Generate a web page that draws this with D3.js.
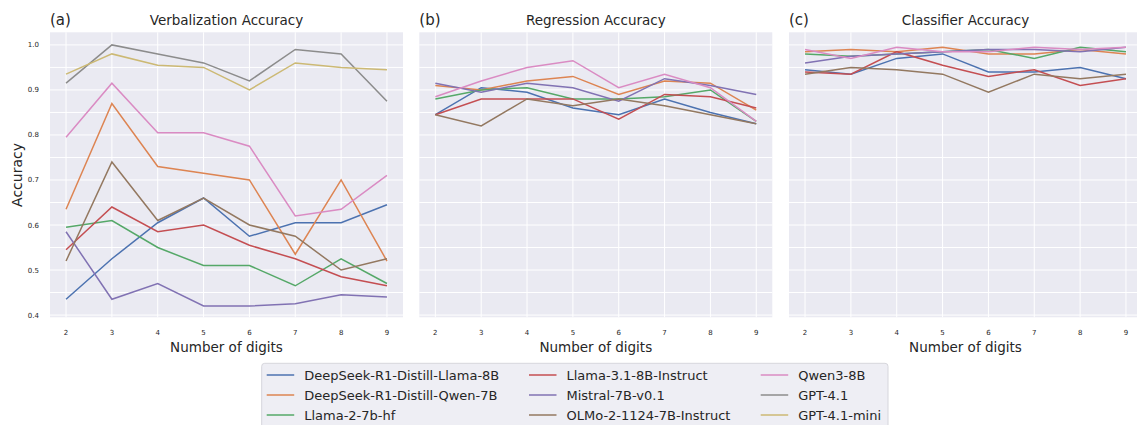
<!DOCTYPE html>
<html>
<head>
<meta charset="utf-8">
<script src="https://cdn.jsdelivr.net/npm/d3@7"></script>
<style>
  body { margin: 0; background: #fff; }
  svg { font-family: "DejaVu Sans", sans-serif; display: block; }
</style>
</head>
<body>
<div id="chart"></div>
<script>
// x axis: number of digits
const digits = [2, 3, 4, 5, 6, 7, 8, 9]
const yTicks = [0.4, 0.5, 0.6, 0.7, 0.8, 0.9, 1.0]

const models = [
  'DeepSeek-R1-Distill-Llama-8B', 'DeepSeek-R1-Distill-Qwen-7B', 'Llama-2-7b-hf',
  'Llama-3.1-8B-Instruct', 'Mistral-7B-v0.1', 'OLMo-2-1124-7B-Instruct',
  'Qwen3-8B', 'GPT-4.1', 'GPT-4.1-mini'
]
const colors = ['#4C72B0', '#DD8452', '#55A868', '#C44E52', '#8172B3', '#937860', '#DA8BC3', '#8C8C8C', '#CCB974']

// (a) verbalization, one row per model
const verbalization = [
  [0.435, 0.525, 0.605, 0.66, 0.575, 0.605, 0.605, 0.645],
  [0.635, 0.87, 0.73, 0.715, 0.70, 0.535, 0.70, 0.52],
  [0.595, 0.61, 0.55, 0.51, 0.51, 0.465, 0.525, 0.47],
  [0.545, 0.64, 0.585, 0.60, 0.555, 0.525, 0.485, 0.465],
  [0.585, 0.435, 0.47, 0.42, 0.42, 0.425, 0.445, 0.44],
  [0.52, 0.74, 0.61, 0.66, 0.60, 0.575, 0.50, 0.525],
  [0.795, 0.915, 0.805, 0.805, 0.775, 0.62, 0.635, 0.71],
  [0.915, 1.0, 0.98, 0.96, 0.92, 0.99, 0.98, 0.875],
  [0.935, 0.98, 0.955, 0.95, 0.90, 0.96, 0.95, 0.945]
]
// (b) regression (no GPT rows)
const regression = [
  [0.845, 0.905, 0.895, 0.86, 0.845, 0.88, 0.85, 0.825],
  [0.91, 0.90, 0.92, 0.93, 0.89, 0.92, 0.915, 0.855],
  [0.88, 0.90, 0.905, 0.88, 0.88, 0.885, 0.90, 0.83],
  [0.845, 0.88, 0.88, 0.88, 0.835, 0.89, 0.885, 0.86],
  [0.915, 0.895, 0.915, 0.905, 0.875, 0.925, 0.91, 0.89],
  [0.845, 0.82, 0.88, 0.865, 0.88, 0.865, 0.845, 0.825],
  [0.885, 0.92, 0.95, 0.965, 0.905, 0.935, 0.905, 0.83]
]
// (c) classifier
const classifier = [
  [0.945, 0.935, 0.97, 0.98, 0.94, 0.94, 0.95, 0.925],
  [0.985, 0.99, 0.985, 0.995, 0.98, 0.98, 0.99, 0.98],
  [0.98, 0.975, 0.98, 0.985, 0.99, 0.97, 0.995, 0.985],
  [0.94, 0.935, 0.985, 0.955, 0.93, 0.945, 0.91, 0.925],
  [0.96, 0.975, 0.98, 0.985, 0.99, 0.99, 0.985, 0.995],
  [0.935, 0.95, 0.945, 0.935, 0.895, 0.935, 0.925, 0.935],
  [0.99, 0.97, 0.995, 0.985, 0.985, 0.995, 0.99, 0.995]
]

const panels = [
  {tag: '(a)', title: 'Verbalization Accuracy', data: verbalization, left: 50},
  {tag: '(b)', title: 'Regression Accuracy', data: regression, left: 419.3},
  {tag: '(c)', title: 'Classifier Accuracy', data: classifier, left: 789}
]

const W = 1137, H = 425
const pw = 353, plotTop = 32.3, plotBottom = 317.3
const txt = '#262626'

const svg = d3.select('#chart').append('svg').attr('width', W).attr('height', H)

const y = d3.scaleLinear().domain([0.395, 1.028]).range([plotBottom, plotTop])
const gridY = d3.range(0.4, 1.0001, 0.05)

panels.forEach((p, pi) => {
  const x = d3.scaleLinear().domain([1.65, 9.35]).range([p.left, p.left + pw])
  const g = svg.append('g')

  g.append('rect').attr('x', p.left).attr('y', plotTop).attr('width', pw).attr('height', plotBottom - plotTop)
    .attr('fill', '#EAEAF2')

  // grid
  g.selectAll('.gy').data(gridY).join('line')
    .attr('x1', p.left).attr('x2', p.left + pw)
    .attr('y1', d => y(d)).attr('y2', d => y(d))
    .attr('stroke', '#fff').attr('stroke-width', 1)
  g.selectAll('.gx').data(digits).join('line')
    .attr('x1', d => x(d)).attr('x2', d => x(d))
    .attr('y1', plotTop).attr('y2', plotBottom)
    .attr('stroke', '#fff').attr('stroke-width', 1)

  // x tick labels
  g.selectAll('.xt').data(digits).join('text')
    .attr('x', d => x(d)).attr('y', 335)
    .attr('text-anchor', 'middle').attr('font-size', 7).attr('fill', txt)
    .text(d => d)

  // y tick labels only on first panel
  if (pi === 0) {
    g.selectAll('.yt').data(yTicks).join('text')
      .attr('x', 39).attr('y', d => y(d) + 2.5)
      .attr('text-anchor', 'end').attr('font-size', 7).attr('fill', txt)
      .text(d => d.toFixed(1))
    g.append('text')
      .attr('transform', `translate(22,175) rotate(-90)`)
      .attr('text-anchor', 'middle').attr('font-size', 14).attr('fill', txt)
      .text('Accuracy')
  }

  g.append('text').attr('x', p.left + pw / 2).attr('y', 352)
    .attr('text-anchor', 'middle').attr('font-size', 13.5).attr('fill', txt)
    .text('Number of digits')

  g.append('text').attr('x', p.left + pw / 2).attr('y', 25)
    .attr('text-anchor', 'middle').attr('font-size', 13.5).attr('fill', txt)
    .text(p.title)
  g.append('text').attr('x', p.left).attr('y', 25)
    .attr('font-size', 15).attr('fill', txt)
    .text(p.tag)

  const line = d3.line().x((d, i) => x(digits[i])).y(d => y(d))
  p.data.forEach((row, mi) => {
    g.append('path').datum(row).attr('d', line)
      .attr('fill', 'none').attr('stroke', colors[mi]).attr('stroke-width', 1.5)
  })
})

// legend
const lg = svg.append('g')
lg.append('rect').attr('x', 261.7).attr('y', 363.3).attr('width', 626.3).attr('height', 80)
  .attr('rx', 3).attr('fill', '#EEEEF4').attr('stroke', '#d6d6dc').attr('stroke-width', 1)
const colX = [266.7, 529, 760.7]
models.forEach((m, i) => {
  const cx = colX[Math.floor(i / 3)]
  const cy = 375 + (i % 3) * 20
  lg.append('line').attr('x1', cx).attr('x2', cx + 27.5).attr('y1', cy).attr('y2', cy)
    .attr('stroke', colors[i]).attr('stroke-width', 1.5)
  lg.append('text').attr('x', cx + 37.5).attr('y', cy + 4.5)
    .attr('font-size', 13).attr('fill', txt).text(m)
})
</script>
</body>
</html>
